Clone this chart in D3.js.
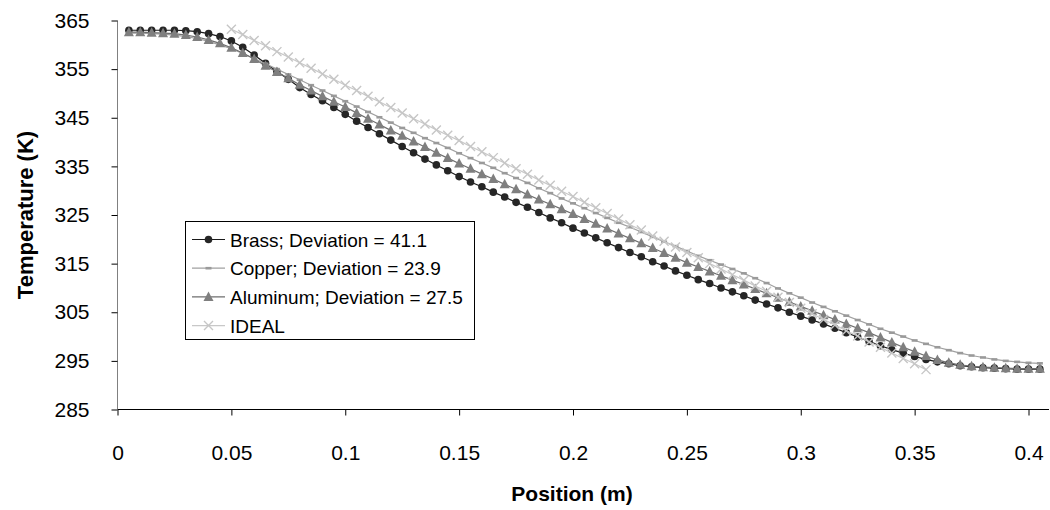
<!DOCTYPE html>
<html>
<head>
<meta charset="utf-8">
<script src="https://cdn.jsdelivr.net/npm/d3@7"></script>
<style>
  body { margin: 0; background: #fff; }
  svg { display: block; font-family: Arial, "Liberation Sans", sans-serif; }
</style>
</head>
<body>
<div id="chart"></div>
<script>
// Sample positions (m) for the three measured rods
const positions = [
  0.005, 0.010, 0.015, 0.020, 0.025, 0.030, 0.035, 0.040, 0.045, 0.050,
  0.055, 0.060, 0.065, 0.070, 0.075, 0.080, 0.085, 0.090, 0.095, 0.100,
  0.105, 0.110, 0.115, 0.120, 0.125, 0.130, 0.135, 0.140, 0.145, 0.150,
  0.155, 0.160, 0.165, 0.170, 0.175, 0.180, 0.185, 0.190, 0.195, 0.200,
  0.205, 0.210, 0.215, 0.220, 0.225, 0.230, 0.235, 0.240, 0.245, 0.250,
  0.255, 0.260, 0.265, 0.270, 0.275, 0.280, 0.285, 0.290, 0.295, 0.300,
  0.305, 0.310, 0.315, 0.320, 0.325, 0.330, 0.335, 0.340, 0.345, 0.350,
  0.355, 0.360, 0.365, 0.370, 0.375, 0.380, 0.385, 0.390, 0.395, 0.400,
  0.405
];

const brass = [
  363.0, 363.0, 363.0, 363.0, 363.0, 362.9, 362.7, 362.3, 361.7, 360.8,
  359.5, 357.9, 356.2, 354.5, 352.9, 351.2, 349.8, 348.5, 347.1, 345.7,
  344.3, 343.0, 341.7, 340.4, 339.1, 337.8, 336.5, 335.3, 334.1, 332.9,
  331.8, 330.8, 329.7, 328.7, 327.6, 326.6, 325.5, 324.4, 323.4, 322.3,
  321.3, 320.3, 319.3, 318.3, 317.3, 316.4, 315.4, 314.5, 313.5, 312.6,
  311.7, 310.9, 310.0, 309.2, 308.4, 307.5, 306.7, 305.9, 305.0, 304.2,
  303.4, 302.6, 301.7, 300.8, 299.9, 299.0, 298.1, 297.3, 296.6, 295.9,
  295.3, 294.8, 294.4, 294.0, 293.8, 293.6, 293.5, 293.4, 293.3, 293.3,
  293.3
];

const copper = [
  362.4, 362.4, 362.3, 362.2, 362.0, 361.7, 361.3, 360.7, 360.0, 359.2,
  358.2, 357.2, 356.1, 355.0, 353.9, 352.8, 351.7, 350.6, 349.5, 348.4,
  347.3, 346.2, 345.1, 344.0, 342.9, 341.9, 340.8, 339.8, 338.8, 337.7,
  336.7, 335.7, 334.7, 333.6, 332.6, 331.6, 330.5, 329.5, 328.4, 327.4,
  326.4, 325.4, 324.4, 323.4, 322.5, 321.5, 320.5, 319.5, 318.6, 317.6,
  316.6, 315.7, 314.8, 313.9, 313.0, 312.0, 311.0, 309.9, 308.9, 308.0,
  307.0, 306.1, 305.2, 304.3, 303.4, 302.5, 301.6, 300.8, 300.0, 299.2,
  298.5, 297.8, 297.2, 296.6, 296.1, 295.7, 295.3, 295.0, 294.8, 294.6,
  294.5
];

const aluminum = [
  362.6, 362.6, 362.5, 362.4, 362.3, 362.0, 361.6, 361.0, 360.3, 359.4,
  358.3, 357.1, 355.7, 354.4, 353.1, 351.8, 350.6, 349.4, 348.3, 347.2,
  346.0, 344.8, 343.6, 342.4, 341.3, 340.1, 339.0, 337.8, 336.7, 335.6,
  334.5, 333.4, 332.4, 331.3, 330.3, 329.2, 328.2, 327.2, 326.2, 325.2,
  324.2, 323.2, 322.2, 321.2, 320.2, 319.2, 318.2, 317.2, 316.2, 315.2,
  314.3, 313.4, 312.5, 311.6, 310.7, 309.8, 308.9, 308.0, 307.1, 306.2,
  305.3, 304.4, 303.5, 302.6, 301.7, 300.8, 299.8, 298.8, 297.8, 296.9,
  296.0, 295.2, 294.6, 294.2, 293.9, 293.7, 293.6, 293.5, 293.4, 293.4,
  293.4
];

// Ideal profile
const idealPositions = [
  0.050, 0.055, 0.060, 0.065, 0.070, 0.075, 0.080, 0.085, 0.090, 0.095,
  0.100, 0.105, 0.110, 0.115, 0.120, 0.125, 0.130, 0.135, 0.140, 0.145,
  0.150, 0.155, 0.160, 0.165, 0.170, 0.175, 0.180, 0.185, 0.190, 0.195,
  0.200, 0.205, 0.210, 0.215, 0.220, 0.225, 0.230, 0.235, 0.240, 0.245,
  0.250, 0.255, 0.260, 0.265, 0.270, 0.275, 0.280, 0.285, 0.290, 0.295,
  0.300, 0.305, 0.310, 0.315, 0.320, 0.325, 0.330, 0.335, 0.340, 0.345,
  0.350, 0.355
];

const ideal = [
  363.2, 362.1, 360.9, 359.8, 358.6, 357.5, 356.3, 355.2, 354.0, 352.9,
  351.7, 350.6, 349.4, 348.3, 347.1, 346.0, 344.8, 343.7, 342.5, 341.4,
  340.3, 339.1, 338.0, 336.8, 335.7, 334.5, 333.4, 332.2, 331.1, 329.9,
  328.8, 327.6, 326.5, 325.3, 324.2, 323.0, 321.9, 320.7, 319.6, 318.4,
  317.3, 316.2, 315.0, 313.9, 312.7, 311.6, 310.4, 309.3, 308.1, 307.0,
  305.8, 304.7, 303.5, 302.4, 301.2, 300.1, 298.9, 297.8, 296.6, 295.5,
  294.4, 293.2
];

const seriesNames = ['Brass; Deviation = 41.1', 'Copper; Deviation = 23.9', 'Aluminum; Deviation = 27.5', 'IDEAL'];
const xTicks = [0, 0.05, 0.1, 0.15, 0.2, 0.25, 0.3, 0.35, 0.4];
const yTicks = [285, 295, 305, 315, 325, 335, 345, 355, 365];

const width = 1050, height = 510;

const svg = d3.select('#chart').append('svg')
  .attr('width', width)
  .attr('height', height);

const x = d3.scaleLinear().domain([0, 0.4]).range([117.5, 1028.5]);
const y = d3.scaleLinear().domain([285, 365]).range([409.5, 20.5]);

// Axes
const xAxis = svg.append('g')
  .attr('transform', `translate(0, ${y(285)})`)
  .call(d3.axisBottom(x).tickValues(xTicks).tickSize(6)
    .tickFormat(d => String(d)));
xAxis.select('.domain').attr('d', `M${x(0)},0H1049`).attr('stroke', '#000');
xAxis.selectAll('.tick line').attr('stroke', '#000');
xAxis.selectAll('.tick text')
  .attr('y', 50).attr('dy', 0)
  .attr('font-size', 21).attr('fill', '#000');

const yAxis = svg.append('g')
  .attr('transform', `translate(${x(0)}, 0)`)
  .call(d3.axisLeft(y).tickValues(yTicks).tickSize(6).tickPadding(22));
yAxis.select('.domain').attr('d', `M0,${y(365)}V${y(285)}`).attr('stroke', '#808080');
yAxis.selectAll('.tick line').attr('stroke', '#000');
yAxis.selectAll('.tick text').attr('font-size', 21).attr('fill', '#000');

// Axis titles
svg.append('text')
  .attr('x', 572)
  .attr('y', 501)
  .attr('text-anchor', 'middle')
  .attr('font-size', 21)
  .attr('font-weight', 'bold')
  .text('Position (m)');

svg.append('text')
  .attr('transform', `translate(33, ${(y(365) + y(285)) / 2}) rotate(-90)`)
  .attr('text-anchor', 'middle')
  .attr('font-size', 22)
  .attr('font-weight', 'bold')
  .text('Temperature (K)');

const line = d3.line().x(d => x(d[0])).y(d => y(d[1]));

// Marker drawers
function circleMarker(g, cx, cy) {
  g.append('circle').attr('cx', cx).attr('cy', cy).attr('r', 3.8).attr('fill', '#262626');
}
function dashMarker(g, cx, cy) {
  g.append('rect').attr('x', cx - 3).attr('y', cy - 1.3).attr('width', 6).attr('height', 2.6).attr('fill', '#9a9a9a');
}
function triMarker(g, cx, cy) {
  g.append('path').attr('d', `M${cx},${cy - 5.5}L${cx + 5},${cy + 4}L${cx - 5},${cy + 4}Z`).attr('fill', '#7f7f7f');
}
function crossMarker(g, cx, cy) {
  g.append('path').attr('d', `M${cx - 4.5},${cy - 4.5}L${cx + 4.5},${cy + 4.5}M${cx - 4.5},${cy + 4.5}L${cx + 4.5},${cy - 4.5}`)
    .attr('stroke', '#c6c6c6').attr('stroke-width', 1.4).attr('fill', 'none');
}

const series = [
  { name: seriesNames[0], xs: positions, ys: brass, stroke: '#1a1a1a', marker: circleMarker },
  { name: seriesNames[1], xs: positions, ys: copper, stroke: '#a0a0a0', marker: dashMarker },
  { name: seriesNames[2], xs: positions, ys: aluminum, stroke: '#6e6e6e', marker: triMarker },
  { name: seriesNames[3], xs: idealPositions, ys: ideal, stroke: '#c8c8c8', marker: crossMarker }
];

const plot = svg.append('g');
series.forEach(s => {
  const pts = s.xs.map((p, i) => [p, s.ys[i]]);
  const g = plot.append('g');
  g.append('path')
    .datum(pts)
    .attr('fill', 'none')
    .attr('stroke', s.stroke)
    .attr('stroke-width', 1.2)
    .attr('d', line);
  pts.forEach(d => s.marker(g, x(d[0]), y(d[1])));
});

// Legend
const legend = svg.append('g');
legend.append('rect')
  .attr('x', 185.5).attr('y', 221.5)
  .attr('width', 289).attr('height', 118)
  .attr('fill', '#fff').attr('stroke', '#000').attr('stroke-width', 1);

series.forEach((s, i) => {
  const ly = 239.5 + i * 28.7;
  const g = legend.append('g');
  g.append('line')
    .attr('x1', 192).attr('x2', 225).attr('y1', ly).attr('y2', ly)
    .attr('stroke', s.stroke).attr('stroke-width', 1.2);
  s.marker(g, 208.5, ly);
  g.append('text')
    .attr('x', 230).attr('y', ly + 7)
    .attr('font-size', 19)
    .attr('fill', '#000')
    .text(s.name);
});
</script>
</body>
</html>
